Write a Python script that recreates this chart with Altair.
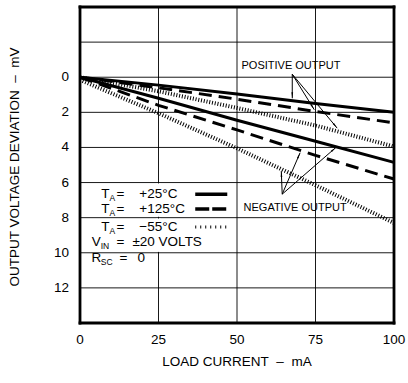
import math
import altair as alt
import pandas as pd

# ---------------- data ----------------
current = [0, 25, 50, 75, 100]
pos_25 = [0, 0.45, 0.95, 1.5, 2.0]
pos_125 = [0, 0.6, 1.25, 1.95, 2.6]
pos_m55 = [0, 0.8, 1.75, 2.75, 3.95]
neg_25 = [0, 1.2, 2.45, 3.65, 4.85]
neg_125 = [0, 1.6, 3.0, 4.45, 5.8]
neg_m55 = [0.15, 2.05, 4.05, 6.15, 8.3]

x_ticks = [0, 25, 50, 75, 100]
y_ticks = [-2, 0, 2, 4, 6, 8, 10, 12]
x_title = "LOAD CURRENT\u00a0\u00a0\u2013\u00a0\u00a0mA"
y_title = "OUTPUT VOLTAGE DEVIATION\u00a0\u00a0\u2013\u00a0\u00a0mV"

series = [
    ("+25", "pos", pos_25), ("+125", "pos", pos_125), ("-55", "pos", pos_m55),
    ("+25", "neg", neg_25), ("+125", "neg", neg_125), ("-55", "neg", neg_m55),
]
rows = []
for temp, out, vals in series:
    for c, v in zip(current, vals):
        rows.append({"current": c, "dev": v, "temp": temp, "output": out})
df = pd.DataFrame(rows)

# ---------------- layout ----------------
CW, CH = 408, 383          # whole canvas
PL, PT = 80, 7             # panel origin
PW, PH = 314, 316          # panel size
XDOM = [0, 100]
YDOM = [-4, 14]
PX_X = PW / (XDOM[1] - XDOM[0])
PX_Y = PH / (YDOM[1] - YDOM[0])
XFULL = [XDOM[0] - PL / PX_X, XDOM[0] + (CW - PL) / PX_X]
YFULL = [YDOM[0] - PT / PX_Y, YDOM[0] + (CH - PT) / PX_Y]
FONT = "Liberation Sans"

xs = alt.Scale(domain=XFULL, nice=False, zero=False)
ys = alt.Scale(domain=YFULL, nice=False, zero=False, reverse=True)

def xq(field):
    return alt.X(f"{field}:Q", scale=xs, axis=None)

def yq(field):
    return alt.Y(f"{field}:Q", scale=ys, axis=None)

# --- grid and frame (rules built from the tick arrays) ---
g_rows = []
for xt in x_ticks:
    g_rows.append({"gx": xt, "gx2": xt, "gy": YDOM[0], "gy2": YDOM[1]})
for yt in y_ticks:
    g_rows.append({"gx": XDOM[0], "gx2": XDOM[1], "gy": yt, "gy2": yt})
grid = alt.Chart(pd.DataFrame(g_rows)).mark_rule(color="black", strokeWidth=1, opacity=0.9).encode(
    x=xq("gx"), x2="gx2:Q", y=yq("gy"), y2="gy2:Q")

f_df = pd.DataFrame({
    "gx": [XDOM[0], XDOM[0], XDOM[0], XDOM[1]],
    "gx2": [XDOM[1], XDOM[1], XDOM[0], XDOM[1]],
    "gy": [YDOM[0], YDOM[1], YDOM[0], YDOM[0]],
    "gy2": [YDOM[0], YDOM[1], YDOM[1], YDOM[1]],
})
frame = alt.Chart(f_df).mark_rule(color="black", strokeWidth=2.8, strokeCap="square").encode(
    x=xq("gx"), x2="gx2:Q", y=yq("gy"), y2="gy2:Q")

# --- tick labels and axis titles ---
xlab = alt.Chart(pd.DataFrame({"v": x_ticks, "yb": [YDOM[1]] * len(x_ticks),
                               "lab": [str(v) for v in x_ticks]})).mark_text(
    font=FONT, fontSize=13.5, color="black", align="center", baseline="middle", dy=17).encode(
    x=xq("v"), y=yq("yb"), text="lab:N")
ylv = [v for v in y_ticks if v >= 0]
ylab = alt.Chart(pd.DataFrame({"v": ylv, "xl": [XDOM[0]] * len(ylv),
                               "lab": [str(v) for v in ylv]})).mark_text(
    font=FONT, fontSize=13.5, color="black", align="right", baseline="middle", dx=-11).encode(
    x=xq("xl"), y=yq("v"), text="lab:N")
xtit = alt.Chart(pd.DataFrame({"t": [x_title], "tx": [(XDOM[0] + XDOM[1]) / 2], "ty": [YDOM[1]]})).mark_text(
    font=FONT, fontSize=13.5, color="black", align="center", baseline="middle", dy=39).encode(
    x=xq("tx"), y=yq("ty"), text="t:N")
ytit = alt.Chart(pd.DataFrame({"t": [y_title], "tx": [XDOM[0] - 65 / PX_X],
                               "ty": [YDOM[0] + 160 / PX_Y]})).mark_text(
    font=FONT, fontSize=13.5, color="black", align="center", baseline="middle", angle=270).encode(
    x=xq("tx"), y=yq("ty"), text="t:N")

base = alt.Chart(df)
solid = base.transform_filter("datum.temp == '+25'").mark_line(
    color="black", strokeWidth=3).encode(x=xq("current"), y=yq("dev"), detail="output:N")
dashed = base.transform_filter("datum.temp == '+125'").mark_line(
    color="black", strokeWidth=3, strokeDash=[13, 7]).encode(x=xq("current"), y=yq("dev"), detail="output:N")
hatched = base.transform_filter("datum.temp == '-55'").mark_line(
    color="black", strokeWidth=4, strokeDash=[1, 1.8]).encode(x=xq("current"), y=yq("dev"), detail="output:N")

# --- mask of the 25 mA gridline behind the legend text ---
mask_df = pd.DataFrame({"mx": [24.3, 24.3], "mx2": [25.7, 25.7], "my": [6.05, 8.05], "my2": [7.95, 9.95]})
mask = alt.Chart(mask_df).mark_rect(color="white").encode(
    x=xq("mx"), x2="mx2:Q", y=yq("my"), y2="my2:Q")

# --- legend samples ---
leg_y = [6.66, 7.51, 8.53, 9.39, 10.30]
samp = pd.DataFrame({"x": [36.7] * 3, "x2": [46.9] * 3, "y": leg_y[:3], "k": ["s", "d", "h"]})
def samp_rule(k, **kw):
    return alt.Chart(samp).transform_filter(f"datum.k == '{k}'").mark_rule(color="black", **kw).encode(
        x=xq("x"), x2="x2:Q", y=yq("y"))
s1 = samp_rule("s", strokeWidth=3.5)
s2 = samp_rule("d", strokeWidth=3.5, strokeDash=[14, 3])
s3 = samp_rule("h", strokeWidth=3, strokeDash=[1, 4])

# --- legend texts ---
center_txt = pd.DataFrame({
    "x": [8.1, 8.1, 8.1, 5.2, 5.2, 12.9, 12.9, 12.9, 12.9, 13.8],
    "y": [leg_y[0], leg_y[1], leg_y[2], leg_y[3], leg_y[4], leg_y[0], leg_y[1], leg_y[2], leg_y[3], leg_y[4]],
    "t": ["T", "T", "T", "V", "R", "=", "=", "=", "=", "="],
})
left_txt = pd.DataFrame({
    "x": [18.9, 18.9, 18.9, 16.7, 18.3],
    "y": leg_y,
    "t": ["+25\u00b0C", "+125\u00b0C", "\u221255\u00b0C", "\u00b120 VOLTS", "0"],
})
sub_txt = pd.DataFrame({
    "x": [9.4, 9.4, 9.4, 6.6, 6.6],
    "y": leg_y,
    "t": ["A", "A", "A", "IN", "SC"],
})
def txt(d, align, size, dy=0):
    return alt.Chart(d).mark_text(align=align, baseline="middle", font=FONT, fontSize=size,
                                  color="black", dy=dy).encode(
        x=xq("x"), y=yq("y"), text="t:N")
t_center = txt(center_txt, "center", 13.5)
t_left = txt(left_txt, "left", 13.5)
t_sub = txt(sub_txt, "left", 8.5, dy=4)

ann_txt = pd.DataFrame({"x": [67.2, 68.5], "y": [-0.63, 7.45], "t": ["POSITIVE OUTPUT", "NEGATIVE OUTPUT"]})
t_ann = txt(ann_txt, "center", 11)

# --- arrows ---
arrows = [
    (67.6, -0.17, 67.6, 1.2), (67.6, -0.17, 74.6, 1.85), (67.6, -0.17, 81.9, 2.9),
    (64.4, 6.66, 64.1, 5.35), (64.4, 6.66, 70.1, 4.3), (64.4, 6.66, 81.5, 4.0),
]
arr_rows = []
head_rows = []
for x0, y0, x1, y1 in arrows:
    dxp, dyp = (x1 - x0) * PX_X, (y1 - y0) * PX_Y
    L = math.hypot(dxp, dyp)
    ux, uy = dxp / L, dyp / L
    ang = math.degrees(math.atan2(ux, -uy)) % 360
    arr_rows.append({"x": x0, "y": y0, "x2": x1, "y2": y1})
    head_rows.append({"x": x1 - 4 * ux / PX_X, "y": y1 - 4 * uy / PX_Y, "a": ang})
arr_df = pd.DataFrame(arr_rows)
head_df = pd.DataFrame(head_rows)
arr_lines = alt.Chart(arr_df).mark_rule(color="black", strokeWidth=1).encode(
    x=xq("x"), y=yq("y"), x2="x2:Q", y2="y2:Q")
arr_heads = alt.Chart(head_df).mark_point(shape="wedge", filled=True, color="black", opacity=1, size=45).encode(
    x=xq("x"), y=yq("y"), angle=alt.Angle("a:Q", scale=None))

chart = alt.layer(
    grid, solid, dashed, hatched, mask, s1, s2, s3, t_center, t_left, t_sub, t_ann,
    arr_lines, arr_heads, frame, xlab, ylab, xtit, ytit
).properties(
    width=CW, height=CH,
    background="white",
    autosize=alt.AutoSizeParams(type="none"),
    padding=0,
).configure_view(
    stroke=None
)

chart.save("out.html", embed_options={"renderer": "svg", "actions": False})
